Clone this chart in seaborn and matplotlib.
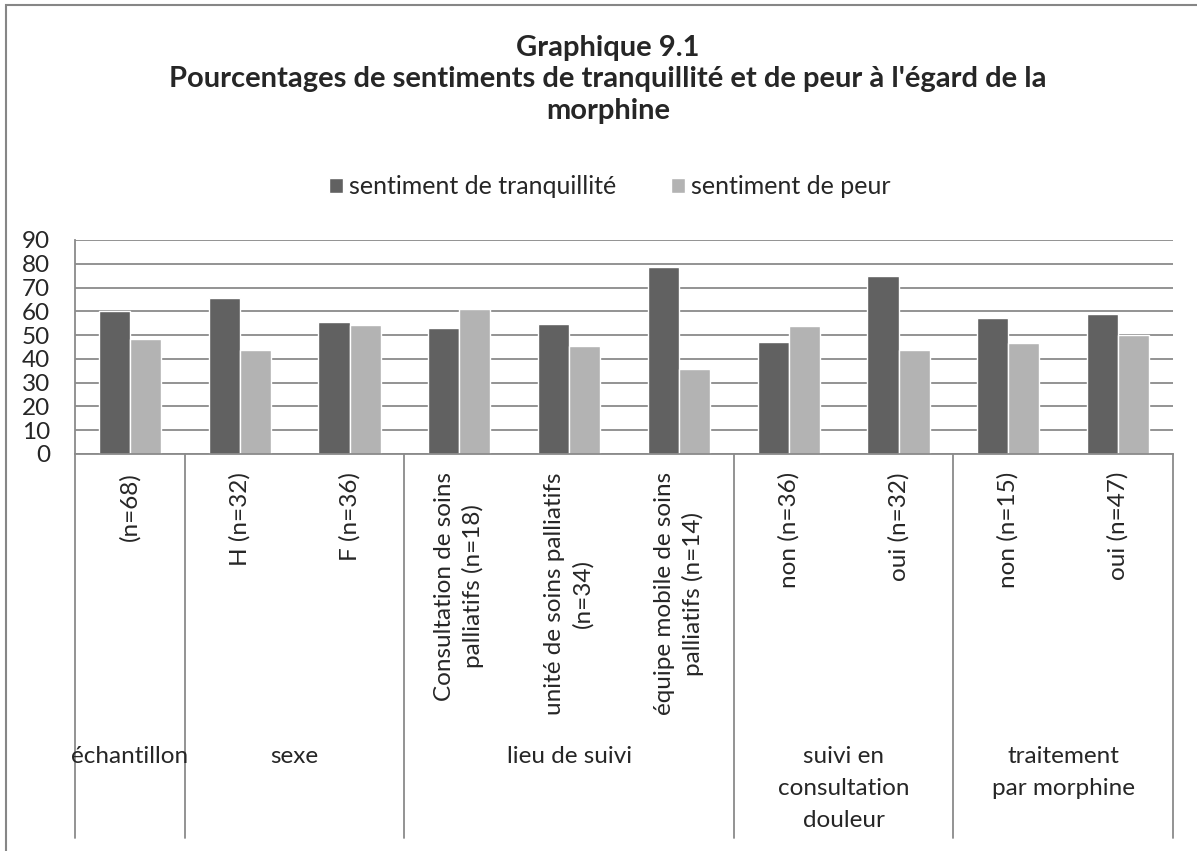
import matplotlib
matplotlib.use("Agg")
import matplotlib.pyplot as plt
import matplotlib.transforms as mtransforms
from matplotlib.lines import Line2D
from matplotlib.patches import Rectangle, Patch
import pandas as pd
import seaborn as sns

# -----------------------------
# DATA
# -----------------------------
categories = [
    "(n=68)",
    "H (n=32)",
    "F (n=36)",
    "Consultation de soins\npalliatifs (n=18)",
    "unité de soins palliatifs\n(n=34)",
    "équipe mobile de soins\npalliatifs (n=14)",
    "non (n=36)",
    "oui (n=32)",
    "non (n=15)",
    "oui (n=47)",
]
groups = ["échantillon", "sexe", "lieu de suivi",
          "suivi en\nconsultation\ndouleur", "traitement\npar morphine"]
group_sizes = [1, 2, 3, 2, 2]

series = ["sentiment de tranquillité", "sentiment de peur"]
tranquillite = [60.3, 65.6, 55.6, 52.9, 54.5, 78.6, 47.2, 75.0, 57.1, 58.7]
peur = [48.5, 43.8, 54.3, 61.1, 45.5, 35.7, 53.8, 43.8, 46.7, 50.0]

df = pd.DataFrame({
    "cat": categories * 2,
    "serie": [series[0]] * len(categories) + [series[1]] * len(categories),
    "val": tranquillite + peur,
})

DARK = "#616161"
LIGHT = "#b3b3b3"
GRID = "#8a8a8a"

# -----------------------------
# FIGURE
# -----------------------------
sns.set_style("white")
plt.rcParams["font.family"] = ["Lato", "DejaVu Sans"]

W, H = 1197, 851
fig = plt.figure(figsize=(W / 100, H / 100), dpi=100)
ax = fig.add_axes([75 / W, 1 - 454 / H, (1173 - 75) / W, (454 - 240) / H])

sns.barplot(data=df, x="cat", y="val", hue="serie", order=categories,
            hue_order=series, palette=[DARK, LIGHT], width=0.565,
            saturation=1, legend=False, ax=ax, zorder=2)

ax.set_xlim(-0.5, len(categories) - 0.5)
ax.set_ylim(0, 90)
ax.set_yticks(range(0, 91, 10))
ax.set_axisbelow(True)
ax.yaxis.grid(True, color=GRID, linewidth=1.3)
ax.set_xlabel("")
ax.set_ylabel("")

for s in ["top", "right"]:
    ax.spines[s].set_visible(False)
for s in ["left", "bottom"]:
    ax.spines[s].set_color(GRID)
    ax.spines[s].set_linewidth(1.3)

ax.tick_params(axis="y", labelsize=17.5, pad=18, length=0)
ax.set_xticks(range(len(categories)))
ax.set_xticklabels(categories, rotation=90, fontsize=17.5,
                   multialignment="center", linespacing=1.4)
ax.tick_params(axis="x", length=0, pad=13)

# -----------------------------
# MULTI-LEVEL CATEGORY AXIS
# -----------------------------
trans = mtransforms.blended_transform_factory(ax.transData, fig.transFigure)
y_top = 1 - 454 / H
y_bot = 1 - 838 / H
pos = -0.5
bounds = [pos]
for n in group_sizes:
    pos += n
    bounds.append(pos)
for b in bounds:
    fig.add_artist(Line2D([b, b], [y_top, y_bot], transform=trans,
                          color=GRID, linewidth=1.3))

for g, start, end in zip(groups, bounds[:-1], bounds[1:]):
    fig.text((start + end) / 2, 1 - 746 / H, g, transform=trans,
             ha="center", va="top", fontsize=17.5, multialignment="center",
             linespacing=1.65)

# -----------------------------
# TITLE & LEGEND
# -----------------------------
fig.text(0.508, 1 - 35 / H,
         "Graphique 9.1\nPourcentages de sentiments de tranquillité et de peur à l'égard de la\nmorphine",
         ha="center", va="top", fontsize=21, weight="bold", multialignment="center",
         linespacing=1.25)

handles = [Patch(facecolor=DARK), Patch(facecolor=LIGHT)]
fig.legend(handles, series, loc="center", bbox_to_anchor=(610 / W, 1 - 187 / H),
           ncol=2, frameon=False, fontsize=18, handlelength=0.55, handleheight=0.55,
           handletextpad=0.25, columnspacing=2.2)

# chart area border (cropped on right / bottom)
fig.add_artist(Rectangle((6 / W, -0.5), 2, 1.5 - 5 / H, transform=fig.transFigure,
                         fill=False, edgecolor="#868686", linewidth=1.5))

fig.savefig("out.png", dpi=100)
